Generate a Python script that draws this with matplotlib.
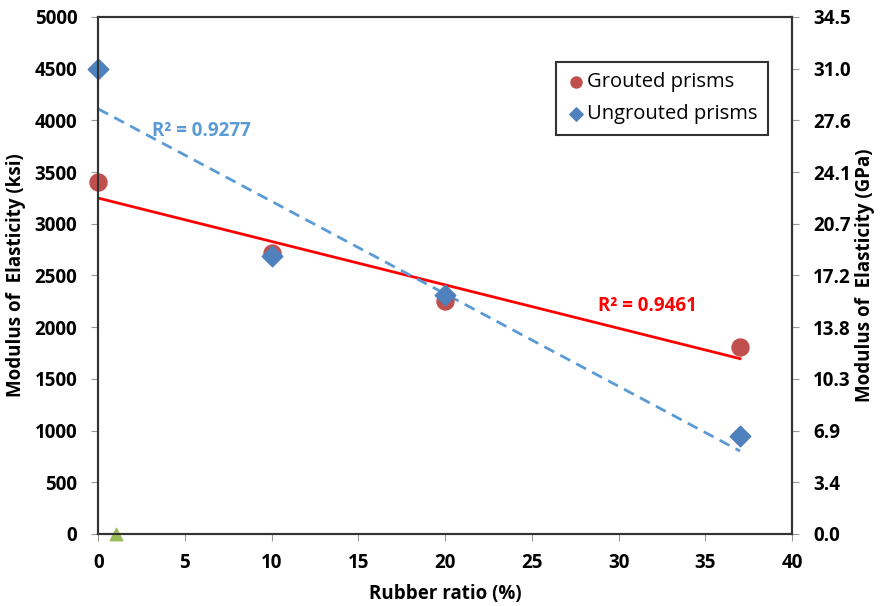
import numpy as np
import matplotlib.pyplot as plt

plt.rcParams['font.family'] = ['Open Sans', 'DejaVu Sans']

# data
ratio = [0, 10, 20, 37]
grouted = [3400, 2720, 2250, 1810]
ungrouted = [4500, 2690, 2310, 950]
extra_x = [1]
extra_y = [0]
ksi_ticks = [0, 500, 1000, 1500, 2000, 2500, 3000, 3500, 4000, 4500, 5000]
gpa_labels = ['0.0', '3.4', '6.9', '10.3', '13.8', '17.2', '20.7', '24.1', '27.6', '31.0', '34.5']

fs = 13.5

fig, ax = plt.subplots(figsize=(8.85, 6.06), dpi=100)
fig.subplots_adjust(left=0.111, right=0.895, top=0.972, bottom=0.119)

# trend lines
xs = np.array([0, 37])
pg = np.polyfit(ratio, grouted, 1)
pu = np.polyfit(ratio, ungrouted, 1)
ax.plot(xs, np.polyval(pg, xs), color='#FF0000', lw=2, zorder=2)
ax.plot(xs, np.polyval(pu, xs), color='#5B9BD5', lw=2, ls=(0, (4, 2.5)), zorder=2)

ax.scatter(ratio, grouted, s=150, marker='o', color='#C0504D', label='Grouted prisms',
           zorder=3, clip_on=False)
ax.scatter(ratio, ungrouted, s=110, marker='D', color='#4F81BD', label='Ungrouted prisms',
           zorder=4, clip_on=False)
ax.scatter(extra_x, extra_y, s=80, marker='^', color='#9BBB59', zorder=4, clip_on=False)

ax.text(3.1, 3900, 'R² = 0.9277', color='#5B9BD5', fontsize=fs, fontweight='bold', va='center')
ax.text(28.8, 2200, 'R² = 0.9461', color='#FF0000', fontsize=fs, fontweight='bold', va='center')

ax.set_xlim(0, 40)
ax.set_ylim(0, 5000)
ax.set_xticks(range(0, 41, 5))
ax.set_yticks(ksi_ticks)
ax.tick_params(labelsize=fs, length=5, color='#999999')
ax.tick_params(axis='x', pad=9)
ax.tick_params(axis='y', pad=10)
for lab in ax.get_xticklabels() + ax.get_yticklabels():
    lab.set_fontweight('bold')
ax.set_xlabel('Rubber ratio (%)', fontsize=fs, fontweight='bold', labelpad=8)
ax.set_ylabel('Modulus of  Elasticity (ksi)', fontsize=fs, fontweight='bold', labelpad=6)

ax2 = ax.twinx()
ax2.set_ylim(0, 5000)
ax2.set_yticks(ksi_ticks)
ax2.set_yticklabels(gpa_labels, fontsize=fs, fontweight='bold')
ax2.tick_params(length=5, color='#999999', pad=10)
ax2.set_ylabel('Modulus of  Elasticity (GPa)', fontsize=fs, fontweight='bold', labelpad=3)

for a in (ax, ax2):
    for sp in a.spines.values():
        sp.set_linewidth(1.5)
        sp.set_color('#333333')

leg = ax.legend(loc='upper right', bbox_to_anchor=(0.965, 0.913), fontsize=14.5,
                frameon=True, fancybox=False, edgecolor='black', handletextpad=0.05,
                borderpad=0.5, labelspacing=0.62, handlelength=1.0, markerscale=0.65,
                borderaxespad=0)
leg.get_frame().set_linewidth(1.5)

plt.savefig('out.png', dpi=100)
